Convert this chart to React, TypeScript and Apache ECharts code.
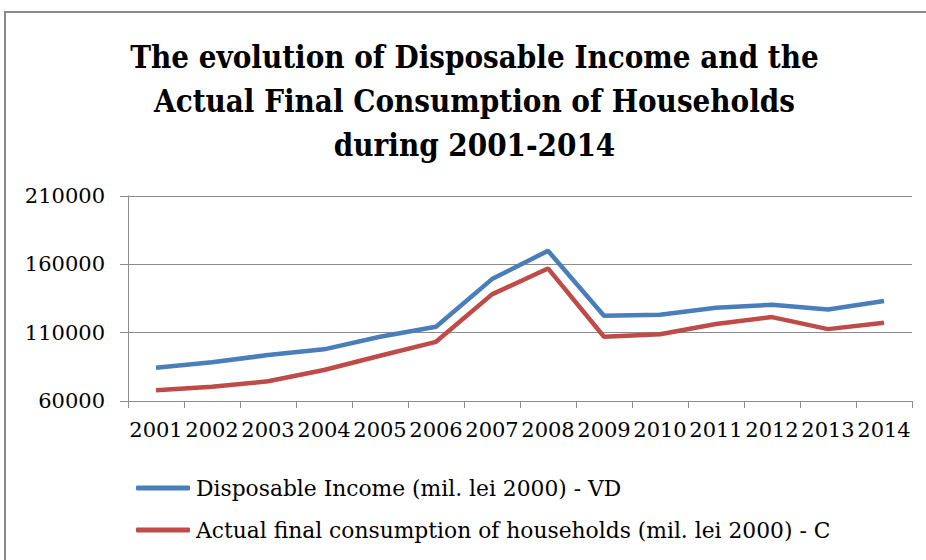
import React, { useEffect, useRef } from "react";
import * as echarts from "echarts";

const years = ["2001","2002","2003","2004","2005","2006","2007","2008","2009","2010","2011","2012","2013","2014"];
const disposableIncome = [84300, 88300, 93600, 97800, 107000, 114300, 149200, 169900, 122400, 123100, 128200, 130400, 127000, 133100];
const finalConsumption = [67800, 70500, 74400, 82700, 93100, 103300, 138000, 157000, 107000, 108800, 116300, 121400, 112600, 117200];
const seriesNames = [
  "Disposable Income (mil. lei 2000) - VD",
  "Actual final consumption of households (mil. lei 2000) - C",
];
const titleText = "The evolution of Disposable Income and the\nActual Final Consumption of Households\nduring 2001-2014";

const SERIF = "DejaVu Serif";

export default function App() {
  const ref = useRef<HTMLDivElement>(null);
  useEffect(() => {
    if (!ref.current) return;
    const chart = echarts.init(ref.current, null, { renderer: "svg" });
    chart.setOption({
      animation: false,
      backgroundColor: "#ffffff",
      title: {
        text: titleText,
        left: 474.5,
        textAlign: "center",
        top: 35,
        padding: 0,
        textStyle: { fontFamily: "DejaVu Serif Condensed", fontWeight: "bold", fontSize: 31, lineHeight: 44, color: "#000" },
      },
      graphic: [
        {
          type: "rect",
          shape: { x: 5, y: 12, width: 940, height: 570 },
          style: { fill: "none", stroke: "#8a8a8a", lineWidth: 2 },
          silent: true,
        },
      ],
      legend: {
        orient: "vertical",
        left: 136,
        top: 475,
        padding: 0,
        itemGap: 16,
        itemWidth: 54,
        itemHeight: 5,
        icon: "roundRect",
        textStyle: { fontFamily: SERIF, fontSize: 21.8, lineHeight: 26, color: "#000", padding: [0, 0, 0, 1] },
        data: seriesNames,
      },
      grid: { left: 128, right: 14, top: 196, bottom: 159, containLabel: false },
      xAxis: {
        type: "category",
        data: years,
        boundaryGap: true,
        axisLine: { show: true, lineStyle: { color: "#8c8c8c", width: 1 } },
        axisTick: { show: true, length: 7, lineStyle: { color: "#8c8c8c" } },
        axisLabel: { fontFamily: SERIF, fontSize: 21, color: "#000", margin: 18, interval: 0 },
      },
      yAxis: {
        type: "value",
        min: 60000,
        max: 210000,
        interval: 50000,
        axisLine: { show: true, lineStyle: { color: "#8c8c8c", width: 1 } },
        axisTick: { show: true, length: 8, lineStyle: { color: "#8c8c8c" } },
        axisLabel: { fontFamily: SERIF, fontSize: 21, color: "#000", margin: 23, formatter: (v: number) => String(v) },
        splitLine: { show: true, lineStyle: { color: "#8c8c8c", width: 1 } },
      },
      series: [
        {
          name: seriesNames[0],
          type: "line",
          data: disposableIncome,
          symbol: "none",
          color: "#4a7ebb",
          lineStyle: { width: 4.5, color: "#4a7ebb" },
        },
        {
          name: seriesNames[1],
          type: "line",
          data: finalConsumption,
          symbol: "none",
          color: "#be4b48",
          lineStyle: { width: 4.5, color: "#be4b48" },
        },
      ],
    });
    return () => chart.dispose();
  }, []);
  return <div ref={ref} style={{ width: 926, height: 560, position: "absolute", left: 0, top: 0 }} />;
}
